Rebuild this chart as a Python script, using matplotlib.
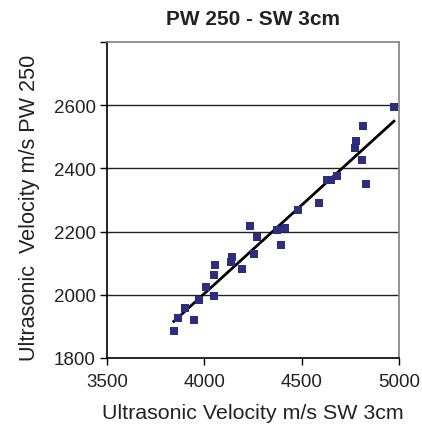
import matplotlib
matplotlib.use("Agg")
import matplotlib.pyplot as plt
import numpy as np

plt.rcParams['font.family'] = ['Liberation Sans', 'DejaVu Sans']

title = "PW 250 - SW 3cm"
xlabel = "Ultrasonic Velocity m/s SW 3cm"
ylabel = "Ultrasonic  Velocity m/s PW 250"

sw_velocity = [3843, 3863, 3901, 3948, 3971, 4007, 4050, 4050, 4056, 4137,
               4144, 4193, 4236, 4257, 4271, 4373, 4394, 4416, 4480, 4588,
               4629, 4651, 4683, 4830, 4974, 4817, 4779, 4774, 4810]
pw_velocity = [1886, 1927, 1957, 1921, 1984, 2024, 1997, 2064, 2094, 2103,
               2119, 2082, 2218, 2130, 2183, 2205, 2157, 2210, 2267, 2290,
               2364, 2364, 2375, 2352, 2595, 2533, 2488, 2464, 2428]

xticks = [3500, 4000, 4500, 5000]
yticks = [1800, 2000, 2200, 2400, 2600, 2800]
ytick_labels = ["1800", "2000", "2200", "2400", "2600", ""]

fig = plt.figure(figsize=(4.22, 4.27), dpi=100)
ax = fig.add_axes([0.2536, 0.1593, 0.6919, 0.7400])

for y in yticks[1:-1]:
    ax.axhline(y, color='#222222', lw=1.0, zorder=1)

x = np.array(sw_velocity, dtype=float)
y = np.array(pw_velocity, dtype=float)
m, b = np.polyfit(x, y, 1)
xl = np.array([x.min(), x.max()])
ax.plot(xl, m * xl + b, color='black', lw=2.0, zorder=3)

ax.plot(x, y, 's', color='#2B2F7E', markersize=5.4, markeredgewidth=0, zorder=4)

ax.set_xlim(3500, 5000)
ax.set_ylim(1800, 2800)
ax.set_xticks(xticks)
ax.set_yticks(yticks)
ax.set_yticklabels(ytick_labels)
ax.tick_params(axis='both', direction='out', length=5, width=1, labelsize=13.5,
               colors='black', labelcolor='#222222')
ax.tick_params(axis='x', pad=6)
ax.tick_params(axis='y', pad=3)

for s in ['left', 'bottom']:
    ax.spines[s].set_color('black')
    ax.spines[s].set_linewidth(1.2)
for s in ['top', 'right']:
    ax.spines[s].set_color('#808080')
    ax.spines[s].set_linewidth(1.2)

ax.set_title(title, fontsize=15, fontweight='bold', pad=13, color='#222222')
ax.set_xlabel(xlabel, fontsize=15.4, labelpad=9, color='#222222')
ax.set_ylabel(ylabel, fontsize=15.6, color='#222222')
ax.yaxis.set_label_coords(-0.228, 0.477)

fig.savefig("out.png", dpi=100)
